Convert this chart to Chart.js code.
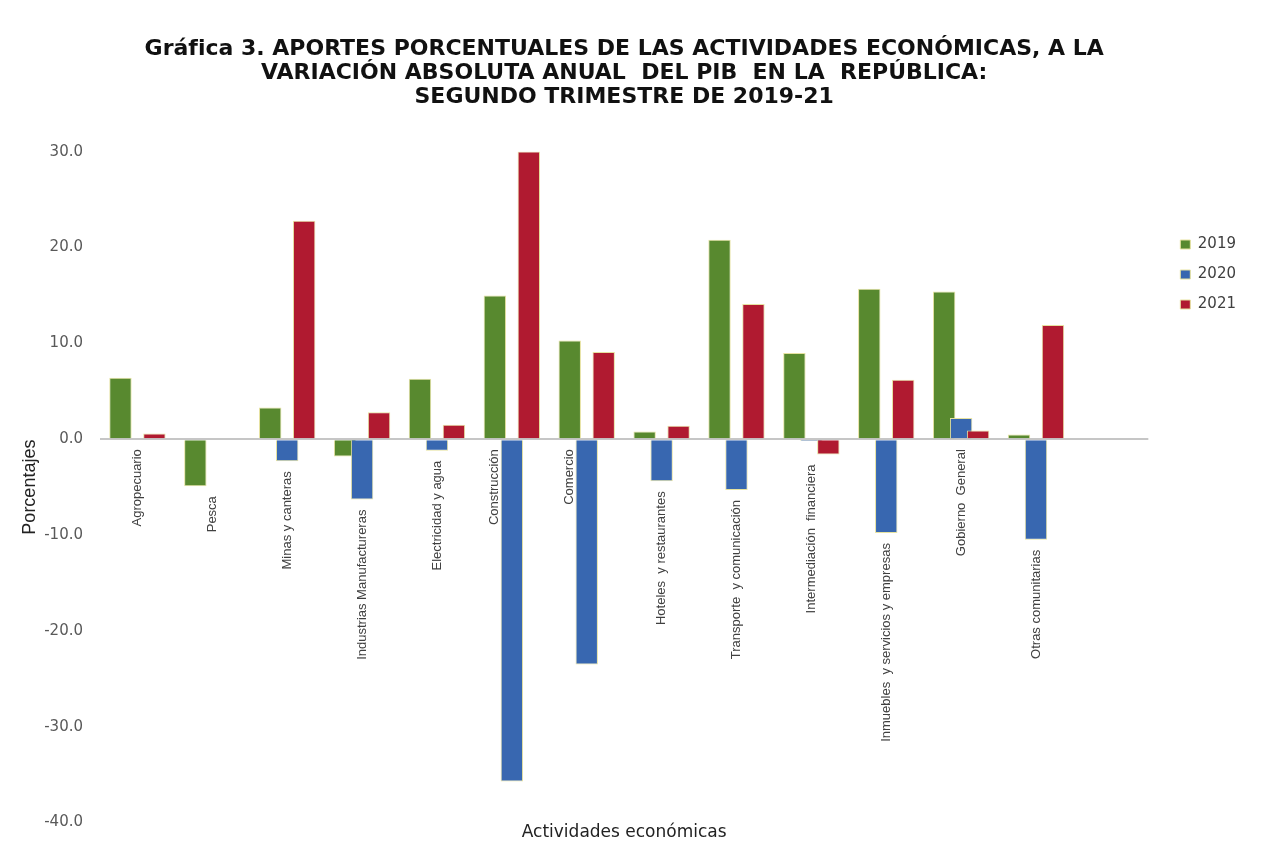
<!DOCTYPE html>
<html lang="es">
<head>
<meta charset="utf-8">
<title>Aportes porcentuales de las actividades económicas</title>
<script src="https://cdn.jsdelivr.net/npm/chart.js@4.4.1/dist/chart.umd.min.js"></script>
<style>
  html, body { margin: 0; padding: 0; background: #fff; }
  #wrap { width: 1280px; height: 861px; }
</style>
</head>
<body>
<div id="wrap"><canvas id="grafica"></canvas></div>
<script>
// la ultima categoria va vacia, como en la hoja original (el eje sigue un poco mas)
const categorias = [
  'Agropecuario', 'Pesca', 'Minas y canteras', 'Industrias Manufactureras',
  'Electricidad y agua', 'Construcción', 'Comercio', 'Hoteles  y restaurantes',
  'Transporte  y comunicación', 'Intermediación  financiera',
  'Inmuebles  y servicios y empresas', 'Gobierno  General', 'Otras comunitarias', ''
];
const anios = ['2019', '2020', '2021'];
const aportes2019 = [6.4, -4.9, 3.3, -1.8, 6.3, 15.0, 10.3, 0.8, 20.8, 9.0, 15.7, 15.4, 0.5];
const aportes2020 = [0.0, 0.0, -2.3, -6.3, -1.2, -35.7, -23.5, -4.4, -5.3, -0.2, -9.8, 2.2, -10.5];
const aportes2021 = [0.6, -0.1, 22.8, 2.8, 1.5, 30.0, 9.1, 1.4, 14.1, -1.6, 6.2, 0.9, 11.9];
const ticksY = [-40, -30, -20, -10, 0, 10, 20, 30];

const colores = ['#58892f', '#3867b0', '#b01a30'];

// Excel pinta las series en orden, asi la de 2021 queda encima de la de 2020
const ordenSeries = {
  id: 'ordenSeries',
  beforeDatasetsDraw(chart) {
    const { ctx, chartArea } = chart;
    chart.getSortedVisibleDatasetMetas().forEach(meta => {
      ctx.save();
      ctx.beginPath();
      ctx.rect(chartArea.left, chartArea.top, chartArea.width, chartArea.height);
      ctx.clip();
      meta.controller.draw();
      ctx.restore();
    });
    return false;
  }
};

// nombres de las actividades en vertical, debajo de la barra mas baja
const etiquetasCategorias = {
  id: 'etiquetasCategorias',
  afterDraw(chart) {
    const { ctx, scales: { x, y } } = chart;
    const barras2019 = chart.getDatasetMeta(0).data;
    ctx.save();
    ctx.font = '13px "Liberation Sans", Arial, sans-serif';
    ctx.fillStyle = '#404040';
    ctx.textAlign = 'right';
    ctx.textBaseline = 'middle';
    categorias.forEach((nombre, i) => {
      if (!nombre) return;
      const minimo = Math.min(0, aportes2019[i], aportes2020[i], aportes2021[i]);
      let cx = x.getPixelForValue(i);
      let top = y.getPixelForValue(minimo) + 10;
      if (minimo < -15) {
        // barra muy larga: el texto va al lado, bajo la de 2019
        cx = barras2019[i].x;
        top = y.getPixelForValue(0) + 10;
      }
      ctx.save();
      ctx.translate(cx, top);
      ctx.rotate(-Math.PI / 2);
      ctx.fillText(nombre, 0, 0);
      ctx.restore();
    });
    ctx.restore();
  }
};

new Chart(document.getElementById('grafica'), {
  type: 'bar',
  data: {
    labels: categorias,
    datasets: [
      { label: anios[0], data: aportes2019, backgroundColor: colores[0] },
      { label: anios[1], data: aportes2020, backgroundColor: colores[1] },
      { label: anios[2], data: aportes2021, backgroundColor: colores[2] }
    ]
  },
  options: {
    responsive: true,
    maintainAspectRatio: false,
    animation: false,
    layout: { padding: { top: 10, left: 15, right: 34, bottom: 12 } },
    datasets: {
      bar: {
        categoryPercentage: 0.68,
        barPercentage: 1.32,
        borderWidth: 1,
        borderColor: '#e6e2a0'
      }
    },
    plugins: {
      title: {
        display: true,
        fullSize: false,
        text: [
          'Gráfica 3. APORTES PORCENTUALES DE LAS ACTIVIDADES ECONÓMICAS, A LA',
          'VARIACIÓN ABSOLUTA ANUAL  DEL PIB  EN LA  REPÚBLICA:',
          'SEGUNDO TRIMESTRE DE 2019-21'
        ],
        color: '#111',
        font: { family: 'DejaVu Sans', size: 22, weight: 'bold', lineHeight: 1.07 },
        padding: { top: 28, bottom: 43 }
      },
      legend: {
        position: 'right',
        align: 'start',
        title: { display: true, text: ' ', font: { size: 10 }, padding: { top: 200, bottom: 0 } },
        labels: {
          boxWidth: 10,
          boxHeight: 9,
          padding: 15,
          color: '#404040',
          font: { family: 'DejaVu Sans', size: 15 }
        }
      },
      tooltip: { enabled: false }
    },
    scales: {
      x: {
        grid: { display: false, drawTicks: false },
        border: { display: false },
        ticks: { display: false },
        title: {
          display: true,
          text: 'Actividades económicas',
          color: '#222',
          font: { family: 'DejaVu Sans', size: 17 },
          padding: { top: 0, bottom: 6 }
        }
      },
      y: {
        min: ticksY[0],
        max: ticksY[ticksY.length - 1],
        afterBuildTicks: scale => { scale.ticks = ticksY.map(v => ({ value: v })); },
        afterFit: scale => { scale.width = 85; },
        ticks: {
          padding: 17,
          color: '#595959',
          font: { family: 'DejaVu Sans', size: 15 },
          callback: v => v.toFixed(1)
        },
        grid: {
          drawTicks: false,
          color: c => (c.tick && c.tick.value === 0 ? '#c6c6c6' : 'transparent'),
          lineWidth: 2
        },
        border: { display: false },
        title: {
          display: true,
          text: 'Porcentajes',
          color: '#222',
          font: { family: 'Liberation Sans', size: 18 }
        }
      },
      // solo deja un hueco entre el area del grafico y la leyenda
      hueco: {
        type: 'linear',
        position: 'right',
        display: true,
        ticks: { display: false },
        grid: { display: false, drawTicks: false },
        border: { display: false },
        afterFit: scale => { scale.width = 17; }
      }
    }
  },
  plugins: [ordenSeries, etiquetasCategorias]
});
</script>
</body>
</html>
